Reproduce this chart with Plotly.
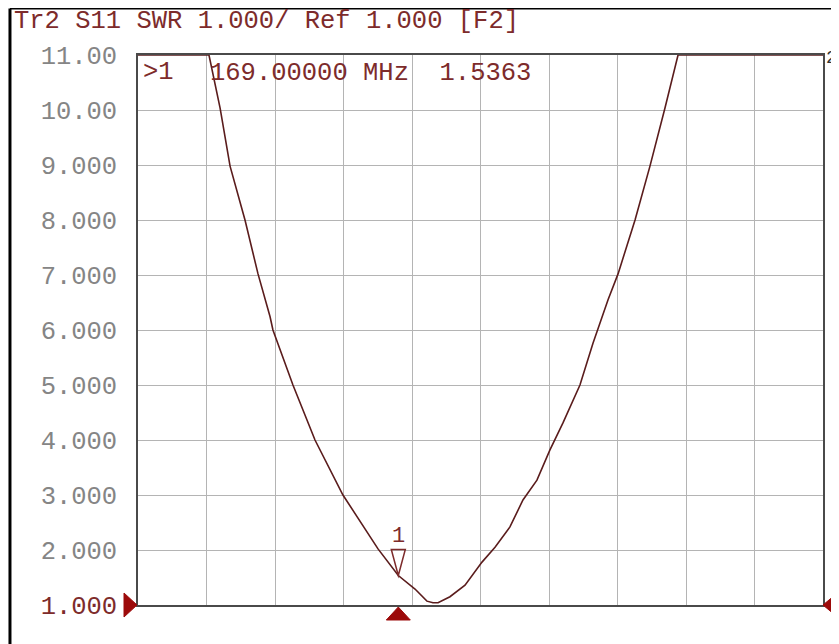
import plotly.graph_objects as go

# ---- data ----
freq_mhz = [150.0, 155.18, 155.99, 156.72, 157.81, 158.76, 159.64, 159.85, 161.31, 162.92,
            164.96, 167.52, 169.0, 170.22, 171.09, 171.53, 171.90, 172.77, 173.87, 175.11,
            176.06, 177.15, 178.10, 179.12, 180.07, 181.02, 182.26, 183.21, 184.31, 185.04,
            186.28, 187.37, 188.47, 189.42, 200.0]
swr = [11.0, 11.0, 10.04, 8.98, 8.0, 7.02, 6.24, 6.0, 5.0, 4.0,
       3.0, 2.02, 1.5363, 1.29, 1.07, 1.04, 1.04, 1.15, 1.36, 1.78,
       2.05, 2.42, 2.91, 3.27, 3.82, 4.31, 5.0, 5.76, 6.55, 7.02,
       8.0, 8.98, 10.04, 11.0, 11.0]

x_start, x_stop, x_div = 150.0, 200.0, 5.0
y_min, y_max = 1, 11
y_ticks = [1, 2, 3, 4, 5, 6, 7, 8, 9, 10, 11]
y_tick_labels = ["1.000", "2.000", "3.000", "4.000", "5.000", "6.000",
                 "7.000", "8.000", "9.000", "10.00", "11.00"]
ref_value = 1.0
marker1_freq = 169.0
marker1_value = 1.5363
title_text = "Tr2 S11 SWR 1.000/ Ref 1.000 [F2]"
readout_id = ">1"
readout_text = "169.00000 MHz  1.5363"

MAROON = "#7d2b2b"
RED = "#9c0a0a"
FONT = "Liberation Mono"

tick_text = [f'<span style="color:{MAROON}">{t}</span>' if v == ref_value else t
             for v, t in zip(y_ticks, y_tick_labels)]

def xfrac(v):
    return (v - x_start) / (x_stop - x_start)

def yfrac(v):
    return (v - y_min) / (y_max - y_min)

fig = go.Figure()
fig.add_trace(go.Scatter(x=freq_mhz, y=swr, mode="lines",
                         line=dict(color="#5a1c1c", width=1.6),
                         hoverinfo="skip", showlegend=False))

# page body has an 8px margin: figure is sized to fit inside the window
fig.update_layout(
    width=831, height=636,
    margin=dict(l=130, r=16, t=47, b=39),
    paper_bgcolor="white", plot_bgcolor="white",
    showlegend=False,
    font=dict(family=FONT, size=25, color="#808080"),
)
fig.update_xaxes(range=[x_start, x_stop], dtick=x_div, tick0=x_start,
                 showticklabels=False, ticks="", showgrid=True,
                 gridcolor="#b4b4b4", gridwidth=1, zeroline=False,
                 showline=True, mirror=True, linecolor="#4a4a4a", linewidth=1.5)
fig.update_yaxes(range=[y_min, y_max], tickvals=y_ticks, ticktext=tick_text,
                 ticks="", ticklabelstandoff=14, showgrid=True,
                 gridcolor="#b4b4b4", gridwidth=1, zeroline=False,
                 showline=True, mirror=True, linecolor="#4a4a4a", linewidth=1.5,
                 tickfont=dict(family=FONT, size=25.5, color="#858585"))

shapes = [
    # outer frame (top and left)
    dict(type="line", xref="paper", yref="paper", x0=-0.1869, x1=1.05, y0=1.0845, y1=1.0845,
         line=dict(color="black", width=2)),
    dict(type="line", xref="paper", yref="paper", x0=-0.1869, x1=-0.1869, y0=1.0845, y1=-0.1,
         line=dict(color="black", width=3)),
    # white background behind marker readout (hides grid, keeps trace)
    dict(type="rect", xref="paper", yref="paper", x0=0.111, x1=0.574, y0=0.949, y1=1.0,
         fillcolor="white", line=dict(width=0), layer="between"),
    # reference level marker (left)
    dict(type="path", xref="paper", yref="paper", xsizemode="pixel", ysizemode="pixel",
         xanchor=0, yanchor=yfrac(ref_value), path="M -14 12 L -1 0 L -14 -12 Z",
         fillcolor=RED, line=dict(color=RED, width=1)),
    # stop marker (right)
    dict(type="path", xref="paper", yref="paper", xsizemode="pixel", ysizemode="pixel",
         xanchor=1, yanchor=yfrac(ref_value), path="M 0 0 L 18 15 L 18 -15 Z",
         fillcolor=RED, line=dict(color=RED, width=1)),
    # marker 1 position on axis (bottom)
    dict(type="path", xref="paper", yref="paper", xsizemode="pixel", ysizemode="pixel",
         xanchor=xfrac(marker1_freq), yanchor=0, path="M 0 -2 L 12 -15 L -12 -15 Z",
         fillcolor=RED, line=dict(color=RED, width=1)),
    # marker 1 symbol on trace
    dict(type="path", xref="x", yref="y", xsizemode="pixel", ysizemode="pixel",
         xanchor=marker1_freq, yanchor=marker1_value, path="M 0 0 L -7 26 L 7 26 Z",
         line=dict(color=MAROON, width=1.5)),
]
fig.update_layout(shapes=shapes)

annotations = [
    dict(text=title_text, xref="paper", yref="paper", x=-0.184, y=1.0655,
         xanchor="left", yanchor="middle", showarrow=False, yshift=-3,
         font=dict(family=FONT, size=25.5, color=MAROON)),
    dict(text=readout_id, xref="paper", yref="paper", x=0.005, y=1.0,
         xanchor="left", yanchor="top", showarrow=False, yshift=-1,
         font=dict(family=FONT, size=25.5, color=MAROON)),
    dict(text=readout_text, xref="paper", yref="paper", x=0.1013, y=1.0,
         xanchor="left", yanchor="top", showarrow=False,
         borderpad=2, yshift=-1,
         font=dict(family=FONT, size=25.5, color=MAROON)),
    dict(text="1", xref="x", yref="y", x=marker1_freq, y=marker1_value,
         yshift=39, showarrow=False,
         font=dict(family=FONT, size=22, color=MAROON)),
    dict(text="2", xref="paper", yref="paper", x=1.001, y=0.994,
         xanchor="left", yanchor="middle", showarrow=False,
         font=dict(family=FONT, size=18, color="#333333")),
]
fig.update_layout(annotations=annotations)

fig.write_html("out.html")
